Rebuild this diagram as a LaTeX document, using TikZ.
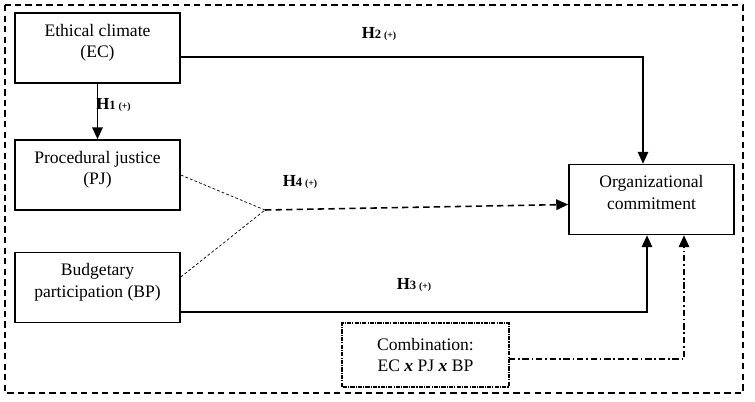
\documentclass[tikz,border=0pt]{standalone}
\usepackage{fontspec}
\setmainfont{Liberation Serif}
\usetikzlibrary{arrows.meta,calc}
\newcommand{\hyp}[1]{\textbf{H}{\fontsize{9}{10}\selectfont\textbf{#1}}\,{\fontsize{7}{8}\selectfont\textbf{(+)}}}
\newcommand{\lift}{\rule[-10pt]{0pt}{10pt}}
\begin{document}
\begin{tikzpicture}[x=0.025cm,y=-0.025cm,
  varbox/.style={draw,line width=1.1pt,minimum width=4.125cm,minimum height=1.75cm,inner sep=0pt,align=center,font=\fontsize{12.5}{15.5}\selectfont},
  link/.style={line width=1.1pt,-{Triangle[length=8.5pt,width=7.5pt]}},
  weak/.style={line width=0.5pt,dash pattern=on 2pt off 1.5pt},
  hyplabel/.style={inner sep=0pt,font=\fontsize{12}{14}\selectfont}]
\useasboundingbox (0,0) rectangle (755,401);
\draw[line width=1.1pt,dash pattern=on 4.5pt off 3pt] (5,5) rectangle (743,393);
\node[varbox] (ec) at (97.5,48) {Ethical climate\\(EC)\lift};
\node[varbox] (pj) at (97.5,175) {Procedural justice\\(PJ)\lift};
\node[varbox] (bp) at (97.5,287.5) {Budgetary\\participation (BP)\lift};
\node[varbox] (oc) at (651.5,199.5) {Organizational\\commitment\lift};
\node[varbox,draw=none,minimum height=1.55cm] (comb) at (425.5,355) {Combination:\\EC \textbf{\textit{x}} PJ \textbf{\textit{x}} BP};
\draw[line width=1.1pt,dash pattern=on 3pt off 0.8pt on 0.8pt off 0.8pt] (comb.south west) rectangle (comb.north east);
\coordinate (join) at (265,210);
\draw[link] (ec.south) -- (pj.north);
\draw[link] ($(ec.east)+(0,9)$) -| ($(oc.north)+(-8.5,0)$);
\draw[link] ($(bp.east)+(0,24.5)$) -| ($(oc.south)+(-4.5,0)$);
\draw[link,dash pattern=on 4.5pt off 2pt on 1.2pt off 2pt] ($(comb.east)+(0,4)$) -| ($(oc.south)+(32.5,0)$);
\draw[weak] (pj.east) -- (join);
\draw[weak] ($(bp.east)+(0,-10.5)$) -- (join);
\draw[link,dash pattern=on 4.5pt off 3pt] (join) -- ($(oc.west)+(0,5)$);
\node[hyplabel,anchor=west] (h1) at (96,105) {\hyp{1}};
\node[hyplabel] (h2) at (379,34) {\hyp{2}};
\node[hyplabel] (h3) at (414,285) {\hyp{3}};
\node[hyplabel] (h4) at (300,182) {\hyp{4}};
\end{tikzpicture}
\end{document}
